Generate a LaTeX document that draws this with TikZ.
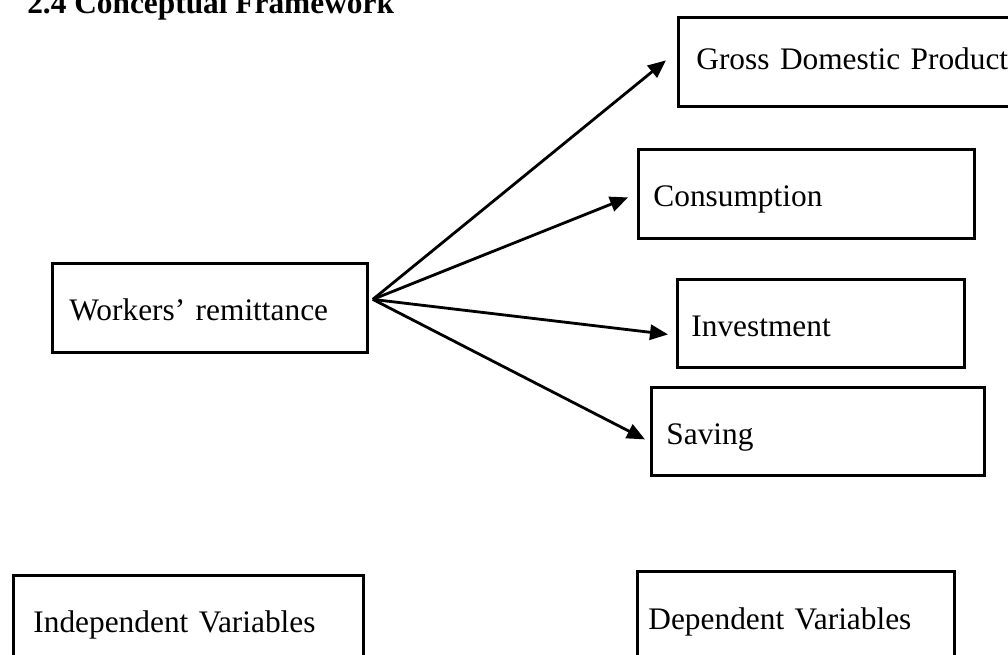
\documentclass[tikz,border=0pt]{standalone}
\usepackage{fontspec}
\setmainfont{Liberation Serif}
\usetikzlibrary{arrows.meta}

\begin{document}
\begin{tikzpicture}[x=0.025cm, y=-0.025cm,
    every node/.style={font=\fontsize{22.3}{26}\selectfont},
    varbox/.style={draw, line width=2pt, anchor=north west, inner ysep=0pt,
        align=left, text height=2em, text depth=0.15em},
    link/.style={line width=2pt, -{Triangle[length=0.45cm, width=0.38cm]}}]
    \useasboundingbox (0,0) rectangle (1008,655);

    % Title
    \node[anchor=base west, inner sep=0pt, font=\fontsize{22.3}{26}\selectfont\bfseries] (title) at (27,14) {2.4 Conceptual Framework};

    % Independent variable
    \node[varbox, inner xsep=17*0.025cm, text width=281*0.025cm, minimum height=89*0.025cm] (remit) at (51,262) {Workers’ remittance};

    % Dependent variables
    \node[varbox, inner xsep=18*0.025cm, text width=307*0.025cm, minimum height=89*0.025cm,
        text height=1.27em, text depth=0.22em] (gdp) at (677,16) {\mbox{Gross Domestic Product}};
    \node[varbox, inner xsep=15*0.025cm, text width=306*0.025cm, minimum height=89*0.025cm] (cons) at (637,148) {Consumption};
    \node[varbox, inner xsep=14*0.025cm, text width=259*0.025cm, minimum height=88*0.025cm] (inv) at (676,278) {Investment};
    \node[varbox, inner xsep=15*0.025cm, text width=303*0.025cm, minimum height=88*0.025cm] (sav) at (650,386) {Saving};

    % Legend boxes
    \node[varbox, inner xsep=20*0.025cm, text width=310*0.025cm, minimum height=89*0.025cm] (indep) at (12,574) {Independent Variables};
    \node[varbox, inner xsep=11*0.025cm, text width=295*0.025cm, minimum height=91*0.025cm] (dep) at (636,570) {Dependent Variables};

    % Arrows
    \coordinate (hub) at ([shift={(4,-8.5)}]remit.east);
    \draw[link] (hub) -- ([shift={(-11,-1.5)}]gdp.west);
    \draw[link] (hub) -- ([shift={(-9,3.5)}]cons.west);
    \draw[link] (hub) -- ([shift={(-8,11)}]inv.west);
    \draw[link] (hub) -- ([shift={(-5,8)}]sav.west);
\end{tikzpicture}
\end{document}
